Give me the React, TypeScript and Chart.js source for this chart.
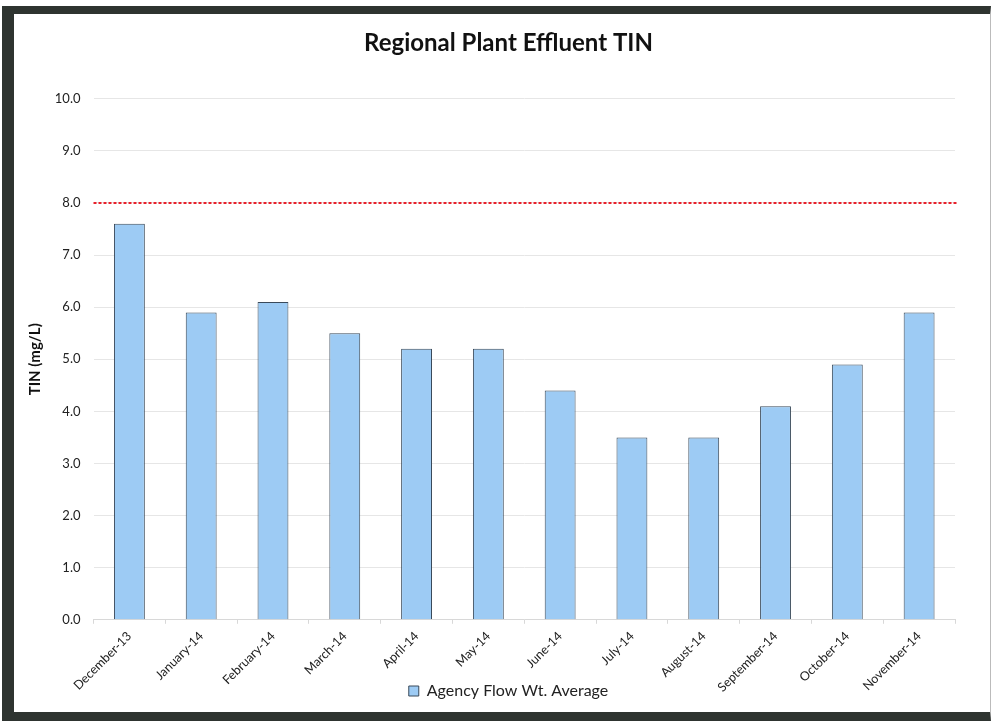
import React, { useEffect, useRef } from "react";
import { Chart, registerables } from "chart.js";

Chart.register(...registerables);

const categories = [
  "December-13", "January-14", "February-14", "March-14", "April-14", "May-14",
  "June-14", "July-14", "August-14", "September-14", "October-14", "November-14",
];
const agencyFlowWtAverage = [7.6, 5.9, 6.1, 5.5, 5.2, 5.2, 4.4, 3.5, 3.5, 4.1, 4.9, 5.9];
const limitValue = 8.0;
const yMin = 0;
const yMax = 10;
const yStep = 1;

const limitLinePlugin = {
  id: "limitLine",
  afterDatasetsDraw(chart: any) {
    const { ctx, chartArea, scales } = chart;
    const y = scales.y.getPixelForValue(limitValue);
    ctx.save();
    ctx.strokeStyle = "#e8212b";
    ctx.lineWidth = 2;
    ctx.setLineDash([3, 2]);
    ctx.beginPath();
    ctx.moveTo(chartArea.left, y);
    ctx.lineTo(chartArea.right + 3, y);
    ctx.stroke();
    ctx.restore();
  },
};

// shift title and legend slightly right, as in the original layout
const shiftBlocksPlugin = {
  id: "shiftBlocks",
  afterLayout(chart: any) {
    const dx = 22;
    for (const b of [chart.titleBlock, chart.legend]) {
      if (b) {
        b.left += dx;
        b.right += dx;
      }
    }
  },
};

export default function App() {
  const ref = useRef<HTMLCanvasElement>(null);
  useEffect(() => {
    document.body.style.margin = "0";
    const chart = new Chart(ref.current as HTMLCanvasElement, {
      type: "bar",
      data: {
        labels: categories,
        datasets: [
          {
            label: "Agency Flow Wt. Average",
            data: agencyFlowWtAverage,
            backgroundColor: "#9dcbf4",
            borderColor: "#3a4a5a",
            borderWidth: 1,
            barPercentage: 0.43,
            categoryPercentage: 1,
          },
        ],
      },
      options: {
        animation: false,
        responsive: false,
        layout: { padding: { top: 29, left: 18, right: 38, bottom: 16 } },
        plugins: {
          title: {
            display: true,
            text: "Regional Plant Effluent TIN",
            color: "#111",
            font: { family: "Lato", size: 24, weight: "bold" },
            padding: { top: 0, bottom: 41 },
          },
          legend: {
            position: "bottom",
            labels: {
              color: "#222",
              font: { family: "Lato", size: 16 },
              boxWidth: 10,
              boxHeight: 10,
              padding: 0,
            },
          },
          tooltip: { enabled: false },
        },
        scales: {
          x: {
            offset: true,
            grid: {
              offset: true,
              drawOnChartArea: false,
              color: "#d8d8d8",
              tickLength: 4,
            },
            border: { color: "#d8d8d8" },
            ticks: {
              color: "#222",
              font: { family: "Lato", size: 12.5 },
              maxRotation: 45,
              minRotation: 45,
              padding: 5,
            },
            afterFit(scale: any) {
              scale.height = scale.height - 17;
              scale._computeLabelArea = () => undefined;
            },
          },
          y: {
            min: yMin,
            max: yMax,
            ticks: {
              stepSize: yStep,
              color: "#222",
              font: { family: "Lato", size: 13 },
              padding: 13,
              callback: (v: any) => Number(v).toFixed(1),
            },
            grid: { color: "#e6e6e6", drawTicks: false },
            border: { display: false },
            title: {
              display: true,
              text: "TIN (mg/L)",
              color: "#111",
              font: { family: "Lato", size: 15, weight: "bold" },
              padding: { top: 8, bottom: 0 },
            },
            afterFit(scale: any) {
              scale.width = 75.5;
            },
          },
        },
      },
      plugins: [limitLinePlugin, shiftBlocksPlugin],
    });
    return () => chart.destroy();
  }, []);

  return (
    <div style={{ position: "fixed", left: 0, top: 0, width: 993, height: 725, background: "#fff" }}>
      <canvas ref={ref} width={993} height={725} style={{ position: "absolute", left: 0, top: 0 }} />
      <div
        style={{
          position: "absolute",
          left: 2,
          top: 6,
          width: 976,
          height: 698,
          borderLeft: "12px solid #2e3430",
          borderTop: "8px solid #2e3430",
          borderBottom: "9px solid #2e3430",
          borderRight: "1px solid #bbb",
          pointerEvents: "none",
        }}
      />
    </div>
  );
}
